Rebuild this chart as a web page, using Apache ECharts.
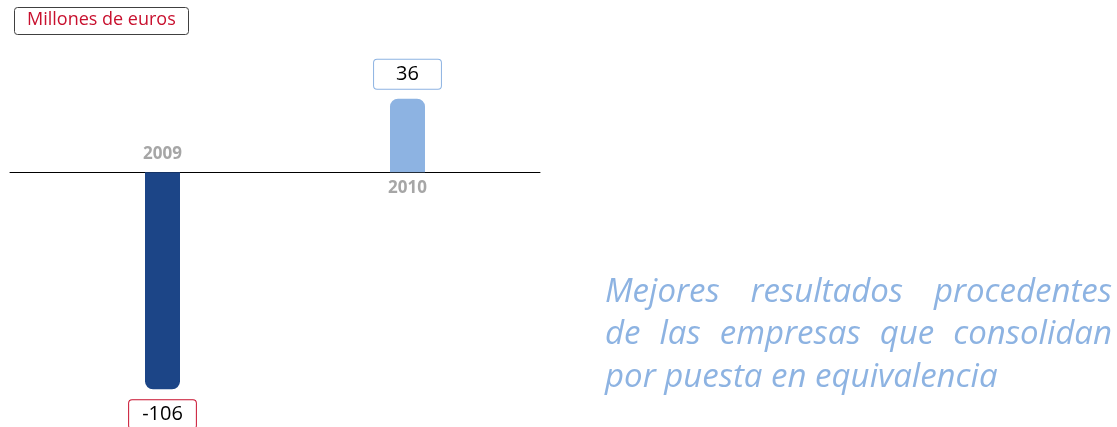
<!DOCTYPE html>
<html>
<head>
<meta charset="utf-8">
<script src="https://cdn.jsdelivr.net/npm/echarts@6/dist/echarts.min.js"></script>
<style>
  html, body { margin: 0; padding: 0; background: #fff; }
  #chart { width: 1117px; height: 427px; }
</style>
</head>
<body>
<div id="chart"></div>
<script>
const years = ['2009', '2010']
const values = [-106, 36]
const barColors = ['#1c4587', '#8db3e2']
const labelBorders = ['#c8102e', '#8db3e2']
const unitText = 'Millones de euros'
const noteLines = [
  'Mejores resultados procedentes',
  'de las empresas que consolidan',
  'por puesta en equivalencia'
]

const chart = echarts.init(document.getElementById('chart'))

// texto justificado a mano (la última línea no se justifica)
const noteFont = 'italic 33px "Open Sans"'
const noteLeft = 605
const noteRight = 1112
const noteTop = 276
const noteStep = 42.5
const ctx = document.createElement('canvas').getContext('2d')
ctx.font = noteFont
const noteGraphics = []
noteLines.forEach((line, li) => {
  const words = line.split(' ')
  const widths = words.map(w => ctx.measureText(w).width)
  const total = widths.reduce((a, b) => a + b, 0)
  const last = li === noteLines.length - 1
  const gap = last ? ctx.measureText(' ').width : (noteRight - noteLeft - total) / (words.length - 1)
  let x = noteLeft
  words.forEach((w, wi) => {
    noteGraphics.push({
      type: 'text',
      x: x,
      y: noteTop + li * noteStep,
      style: { text: w, font: noteFont, fill: '#8db3e2', verticalAlign: 'top' }
    })
    x += widths[wi] + gap
  })
})

const yearLabel = {
  color: '#a6a6a6',
  fontWeight: 'bold',
  fontSize: 17,
  fontFamily: 'Open Sans'
}

chart.setOption({
  animation: false,
  title: {
    text: unitText,
    left: 14,
    top: 7,
    padding: [4, 13, 6, 13],
    borderColor: '#404040',
    borderWidth: 1,
    borderRadius: 3,
    textStyle: { color: '#c8102e', fontSize: 18, fontWeight: 'normal', fontFamily: 'Open Sans' }
  },
  graphic: noteGraphics,
  grid: [
    { left: 40, width: 490, top: 70, bottom: 9, outerBoundsMode: 'none' },
    { left: 10, width: 530, top: 70, bottom: 9, outerBoundsMode: 'none' }
  ],
  xAxis: [
    {
      type: 'category',
      gridIndex: 0,
      data: years,
      axisLine: { show: false },
      axisTick: { show: false },
      axisLabel: { show: false }
    },
    {
      type: 'category',
      gridIndex: 1,
      data: years,
      axisLine: { onZero: true, lineStyle: { color: '#000', width: 1 } },
      axisTick: { show: false },
      axisLabel: { show: false }
    }
  ],
  yAxis: [
    { type: 'value', gridIndex: 0, min: -120, max: 50, show: false },
    { type: 'value', gridIndex: 1, min: -120, max: 50, show: false, splitLine: { show: false } }
  ],
  series: [
    {
      type: 'bar',
      barWidth: 35,
      data: values.map((v, i) => ({
        value: v,
        itemStyle: {
          color: barColors[i],
          borderRadius: v < 0 ? [0, 0, 8, 8] : [8, 8, 0, 0]
        },
        label: {
          show: true,
          position: v < 0 ? 'bottom' : 'top',
          distance: v < 0 ? 11 : 10,
          color: '#000',
          fontSize: 20,
          fontFamily: 'Open Sans',
          backgroundColor: '#fff',
          borderColor: labelBorders[i],
          borderWidth: 1,
          borderRadius: 3,
          padding: v < 0 ? [4, 13, 4, 13] : [5, 22, 4, 22]
        }
      }))
    },
    {
      // etiquetas de año pegadas al eje, al lado contrario de la barra
      type: 'bar',
      barWidth: 35,
      barGap: '-100%',
      silent: true,
      itemStyle: { color: 'transparent' },
      data: years.map((y, i) => ({
        value: 0,
        label: Object.assign({
          show: true,
          formatter: '{b}',
          position: values[i] < 0 ? 'top' : 'bottom',
          distance: values[i] < 0 ? 10 : 7
        }, yearLabel)
      }))
    }
  ]
})

window.addEventListener('resize', () => chart.resize())
</script>
</body>
</html>
